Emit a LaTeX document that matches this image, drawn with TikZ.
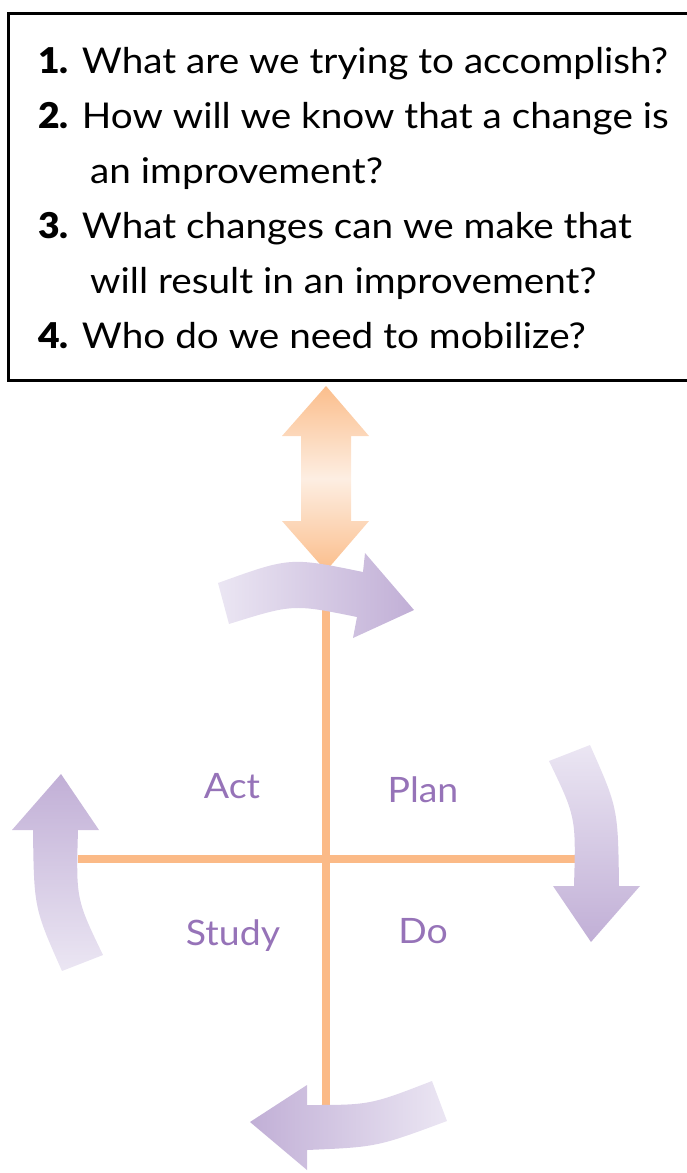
\documentclass[tikz,border=0pt]{standalone}
\usepackage{fontspec}
\setmainfont{Lato}[FakeStretch=1.09]
\newfontfamily\lblfont{Lato}[FakeStretch=1.07]
\newfontfamily\numfont{Lato Black}[FakeStretch=1.05]
\definecolor{orline}{RGB}{251,186,135}
\definecolor{orend}{RGB}{251,190,140}
\definecolor{ormid}{RGB}{253,238,226}
\definecolor{pudark}{RGB}{193,175,214}
\definecolor{pulight}{RGB}{235,230,243}
\definecolor{putext}{RGB}{150,115,184}
\newcommand{\qnum}[1]{{\numfont #1}}
\tikzset{
  qtext/.style={anchor=base west, inner sep=0pt, font=\fontsize{35.5}{40}\selectfont},
  lbl/.style={anchor=base, inner sep=0pt, text=putext, font=\lblfont\fontsize{35}{40}\selectfont},
  axis/.style={draw=orline, line width=8pt},
}
\begin{document}
\begin{tikzpicture}[x=1pt,y=-1pt]
\useasboundingbox (0,0) rectangle (686,1173);
% question box
\draw[line width=3pt] (8,13) rectangle (700,380);
\node[qtext] (q1) at (38,73) {\qnum{1.} What are we trying to accomplish?};
\node[qtext] (q2) at (38,128) {\qnum{2.} How will we know that a change is};
\node[qtext] (q2b) at (90,183) {an improvement?};
\node[qtext] (q3) at (38,238) {\qnum{3.} What changes can we make that};
\node[qtext] (q3b) at (90,293) {will result in an improvement?};
\node[qtext] (q4) at (38,348) {\qnum{4.} Who do we need to mobilize?};
% axes
\coordinate (vtop) at (326,571);
\coordinate (vbot) at (326,1106);
\coordinate (hl) at (78,859);
\coordinate (hr) at (575,859);
\draw[axis] (vtop) -- (vbot);
\draw[axis] (hl) -- (hr);
% double arrow
\shade[top color=orend, bottom color=orend, middle color=ormid]
  (326,386) -- (369,436) -- (351,436) -- (351,521) -- (369,521) -- (326,571)
  -- (282,521) -- (301,521) -- (301,436) -- (282,436) -- cycle;
% top arrow (to the right)
\shade[left color=pulight, right color=pudark]
  (218,583) .. controls (290,557) .. (363,572) -- (365,553) -- (414,610)
  -- (353,638) -- (357,617) .. controls (293,604) .. (229,624) -- cycle;
% right arrow (down)
\shade[top color=pulight, bottom color=pudark]
  (590,745) .. controls (618,808) .. (619,886) -- (640,886) -- (591,942)
  -- (553,886) -- (574,886) .. controls (576,817) .. (549,761) -- cycle;
% bottom arrow (to the left)
\shade[left color=pudark, right color=pulight]
  (432,1081) .. controls (370,1105) .. (307,1105) -- (307,1085) -- (250,1122)
  -- (307,1170) -- (307,1150) .. controls (377,1147) .. (447,1121) -- cycle;
% left arrow (up)
\shade[top color=pudark, bottom color=pulight]
  (62,971) .. controls (34,908) .. (33,830) -- (12,830) -- (61,774)
  -- (99,830) -- (78,830) .. controls (76,899) .. (103,955) -- cycle;
% labels
\node[lbl] (act) at (232,798) {Act};
\node[lbl] (plan) at (423,802) {Plan};
\node[lbl] (study) at (233,945) {Study};
\node[lbl] (do) at (423,943) {Do};
\end{tikzpicture}
\end{document}
